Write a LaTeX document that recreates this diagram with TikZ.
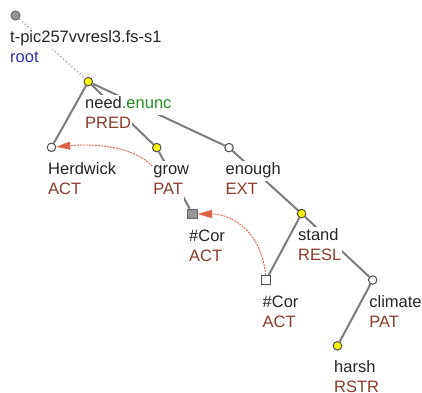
\documentclass[tikz,border=0pt]{standalone}
\usepackage{fontspec}
\setmainfont{Liberation Sans}
\usetikzlibrary{arrows.meta,backgrounds}
\definecolor{edgegray}{RGB}{125,125,125}
\definecolor{fun}{RGB}{140,60,45}
\definecolor{rootblue}{RGB}{50,50,175}
\definecolor{grn}{RGB}{40,140,40}
\definecolor{coref}{RGB}{220,100,70}
\definecolor{nodeyellow}{RGB}{255,255,0}
\definecolor{nodegray}{RGB}{150,150,150}
\begin{document}
\begin{tikzpicture}[x=1pt,y=-1pt,
  font=\fontsize{16.5}{20}\selectfont,
  tedge/.style={draw=edgegray,line width=2pt},
  rootedge/.style={draw=gray!55,line width=1.6pt,dash pattern=on 1.5pt off 2.2pt},
  yel/.style={circle,draw=black!70,line width=1pt,fill=nodeyellow,inner sep=0pt,minimum size=8.5pt},
  wht/.style={circle,draw=black!70,line width=1pt,fill=white,inner sep=0pt,minimum size=8.5pt},
  gry/.style={circle,draw=black!60,line width=1pt,fill=nodegray,inner sep=0pt,minimum size=9pt},
  sqw/.style={rectangle,draw=black!70,line width=1pt,fill=white,inner sep=0pt,minimum size=9.5pt},
  sqg/.style={rectangle,draw=black!60,line width=1pt,fill=nodegray,inner sep=0pt,minimum size=9.5pt},
  lab/.style={anchor=base west,fill=white,inner sep=1pt,text height=12.5pt,text depth=5.5pt,text=black!85},
  funlab/.style={lab,text=fun},
  corefarrow/.style={draw=coref,line width=0.9pt,dash pattern=on 2pt off 1pt,
    -{Triangle[length=14pt,width=8pt,fill=coref]}}
]
\useasboundingbox (0,0) rectangle (422,392);

% labels
\node[lab] (rootW) at (9,42.7) {t-pic257vvresl3.fs-s1};
\node[lab,text=rootblue] (rootF) at (9,62.7) {root};
\node[lab] (needW) at (84,108.5) {need\textcolor{grn}{.enunc}};
\node[funlab] (needF) at (84,128.5) {PRED};
\node[lab] (herdW) at (47,174.3) {Herdwick};
\node[funlab] (herdF) at (47,194.5) {ACT};
\node[lab] (growW) at (152.2,174.5) {grow};
\node[funlab] (growF) at (152.2,194.5) {PAT};
\node[lab] (enoughW) at (224.5,174.5) {enough};
\node[funlab] (enoughF) at (224.5,194.5) {EXT};
\node[lab] (corAW) at (188,241) {\#Cor};
\node[funlab] (corAF) at (188,261) {ACT};
\node[lab] (standW) at (297,240.5) {stand};
\node[funlab] (standF) at (297,260.5) {RESL};
\node[lab] (corBW) at (261.5,307) {\#Cor};
\node[funlab] (corBF) at (261.5,327) {ACT};
\node[lab] (climW) at (368.2,307) {climate};
\node[funlab] (climF) at (368.2,327) {PAT};
\node[lab] (harshW) at (333,372.7) {harsh};
\node[funlab] (harshF) at (333,392.7) {RSTR};

% tree nodes
\node[gry] (root) at (15.5,15.5) {};
\node[yel] (need) at (88.3,81.6) {};
\node[wht] (herd) at (51.5,147.3) {};
\node[yel] (grow) at (156.7,147.6) {};
\node[wht] (enough) at (229,147.6) {};
\node[sqg] (corA) at (192.5,214) {};
\node[yel] (stand) at (301.6,213.6) {};
\node[sqw] (corB) at (266,280) {};
\node[wht] (clim) at (372.7,280) {};
\node[yel] (harsh) at (337.5,345.8) {};

\begin{pgfonlayer}{background}
  \draw[rootedge] (root) -- (need);
  \draw[tedge] (need) -- (herd);
  \draw[tedge] (need) -- (grow);
  \draw[tedge] (need) -- (enough);
  \draw[tedge] (grow) -- (corA);
  \draw[tedge] (enough) -- (stand);
  \draw[tedge] (stand) -- (corB);
  \draw[tedge] (stand) -- (clim);
  \draw[tedge] (clim) -- (harsh);
  \draw[corefarrow] ([yshift=5pt]growW.west) .. controls (135,148) and (100,143) .. (herd);
  \draw[corefarrow] (corB) .. controls (262,235) and (235,214) .. (corA);
\end{pgfonlayer}
\end{tikzpicture}
\end{document}
